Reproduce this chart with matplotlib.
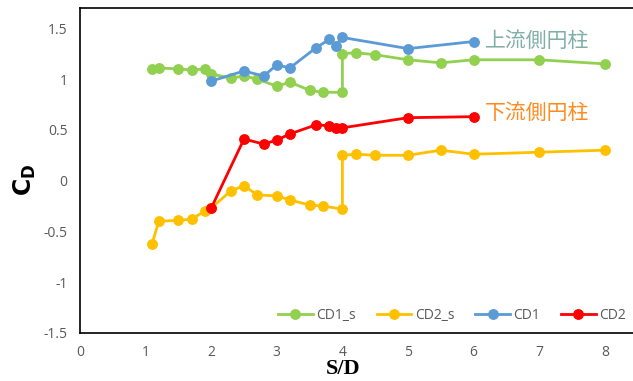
import matplotlib
matplotlib.use("Agg")
import matplotlib.pyplot as plt

# S/D and drag coefficient values
x_cd1_s = [1.1, 1.2, 1.5, 1.7, 1.9, 2.0, 2.3, 2.5, 2.7, 3.0, 3.2, 3.5, 3.7, 4.0, 4.0, 4.2, 4.5, 5.0, 5.5, 6.0, 7.0, 8.0]
cd1_s = [1.10, 1.11, 1.10, 1.09, 1.10, 1.05, 1.01, 1.03, 1.00, 0.93, 0.97, 0.89, 0.87, 0.87, 1.25, 1.26, 1.24, 1.19, 1.16, 1.19, 1.19, 1.15]

x_cd2_s = [1.1, 1.2, 1.5, 1.7, 1.9, 2.0, 2.3, 2.5, 2.7, 3.0, 3.2, 3.5, 3.7, 4.0, 4.0, 4.2, 4.5, 5.0, 5.5, 6.0, 7.0, 8.0]
cd2_s = [-0.62, -0.40, -0.39, -0.38, -0.30, -0.27, -0.10, -0.05, -0.14, -0.15, -0.19, -0.24, -0.25, -0.28, 0.25, 0.26, 0.25, 0.25, 0.30, 0.26, 0.28, 0.30]

x_cd = [2.0, 2.5, 2.8, 3.0, 3.2, 3.6, 3.8, 3.9, 4.0, 5.0, 6.0]
cd1 = [0.98, 1.08, 1.03, 1.14, 1.11, 1.31, 1.39, 1.33, 1.41, 1.30, 1.37]
cd2 = [-0.27, 0.41, 0.36, 0.40, 0.46, 0.55, 0.54, 0.52, 0.52, 0.62, 0.63]

fig = plt.figure(figsize=(6.33, 3.81), dpi=100)
ax = fig.add_axes([0.1264, 0.126, 0.9327, 0.853])

style = dict(marker='o', markersize=6.8, linewidth=2)
ax.plot(x_cd1_s, cd1_s, color='#92D050', label='CD1_s', **style)
ax.plot(x_cd2_s, cd2_s, color='#FFC000', label='CD2_s', **style)
ax.plot(x_cd, cd1, color='#5B9BD5', label='CD1', **style)
ax.plot(x_cd, cd2, color='#FF0000', label='CD2', **style)

ax.set_xlim(0, 9)
ax.set_ylim(-1.5, 1.7)
ax.set_xticks(range(0, 9))
ax.set_yticks([-1.5, -1, -0.5, 0, 0.5, 1, 1.5])
ax.set_yticklabels(['-1.5', '-1', '-0.5', '0', '0.5', '1', '1.5'])
ax.tick_params(length=0, labelsize=10, labelcolor='#595959', pad=9)
for lab in ax.get_xticklabels() + ax.get_yticklabels():
    lab.set_family('Open Sans')

for side in ['left', 'top', 'bottom']:
    ax.spines[side].set_color('black')
    ax.spines[side].set_linewidth(1.2)
ax.spines['right'].set_visible(False)

ax.text(6.17, 1.38, '上流側円柱', fontsize=15,
        color='#7FAFA6', family=['Noto Sans CJK JP', 'DejaVu Sans'], va='center')
ax.text(6.17, 0.67, '下流側円柱', fontsize=15,
        color='#FF8A1E', family=['Noto Sans CJK JP', 'DejaVu Sans'], va='center')

fig.text(0.04, 0.527, r'$\mathbf{C_D}$', rotation=90, fontsize=17,
         ha='center', va='center', family='serif')
fig.text(0.542, 0.004, 'S/D', fontsize=16, fontweight='bold',
         family='Liberation Serif', ha='center', va='bottom')

leg = ax.legend(loc='center left', bbox_to_anchor=(0.326, 0.055), ncol=4, frameon=False,
                handlelength=2.5, columnspacing=1.5, handletextpad=0.25,
                borderaxespad=0, prop={'family': 'Open Sans', 'size': 10})
for t in leg.get_texts():
    t.set_color('#595959')

fig.savefig('out.png', dpi=100)
